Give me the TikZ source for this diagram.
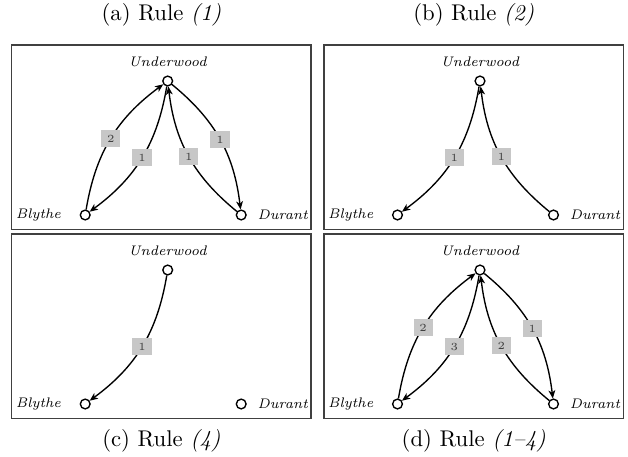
\documentclass[tikz,border=0pt]{standalone}
\usetikzlibrary{arrows.meta}
\begin{document}
\begin{tikzpicture}[x=0.44pt,y=0.44pt,
  panelbox/.style={draw=black!75, line width=0.55pt},
  vert/.style={circle, draw, line width=0.6pt, minimum size=4.3pt, inner sep=0pt, fill=white},
  namelab/.style={font=\fontsize{6.1}{7}\selectfont\itshape, inner sep=0pt},
  captext/.style={font=\fontsize{10}{12}\selectfont, inner sep=0pt},
  wlbl/.style={fill=black!22, minimum width=8.4pt, minimum height=7.4pt, inner sep=0pt,
              font=\fontsize{4.8}{5}\selectfont, text=black!75},
  conn/.style={line width=0.6pt, -{Stealth[length=3.6pt,width=3pt,inset=1pt]}, bend left=22}]
\useasboundingbox (0,0) rectangle (628,-457);
% panels
\draw[panelbox] (11.7,-45) rectangle (311,-229.7);
\draw[panelbox] (324,-45) rectangle (623.3,-229.7);
\draw[panelbox] (11.7,-234) rectangle (311,-418.7);
\draw[panelbox] (324,-234) rectangle (623.3,-418.7);
% captions
\node[captext] (capa) at (161.4,-15) {(a) Rule \textit{(1)}};
\node[captext] (capb) at (473.7,-15) {(b) Rule \textit{(2)}};
\node[captext] (capc) at (161.4,-441) {(c) Rule \textit{(4)}};
\node[captext] (capd) at (473.7,-441) {(d) Rule \textit{(1--4)}};
% panel (a)
\begin{scope}[shift={(11.7,-45)}]
  \node[vert, label={[namelab, label distance=3.4pt]above:Underwood}] (aU) at (156,-36) {};
  \node[vert, label={[namelab, label distance=8pt]left:Blythe}] (aB) at (73.5,-170) {};
  \node[vert, label={[namelab, label distance=4.6pt]right:Durant}] (aD) at (229.5,-170) {};
  \draw[conn] (aB) to node[wlbl] {2} (aU);
  \draw[conn] (aU) to node[wlbl] {1} (aB);
  \draw[conn] (aD) to node[wlbl] {1} (aU);
  \draw[conn] (aU) to node[wlbl] {1} (aD);
\end{scope}
% panel (b)
\begin{scope}[shift={(324,-45)}]
  \node[vert, label={[namelab, label distance=3.4pt]above:Underwood}] (bU) at (156,-36) {};
  \node[vert, label={[namelab, label distance=8pt]left:Blythe}] (bB) at (73.5,-170) {};
  \node[vert, label={[namelab, label distance=4.6pt]right:Durant}] (bD) at (229.5,-170) {};
  \draw[conn] (bU) to node[wlbl] {1} (bB);
  \draw[conn] (bD) to node[wlbl] {1} (bU);
\end{scope}
% panel (c)
\begin{scope}[shift={(11.7,-234)}]
  \node[vert, label={[namelab, label distance=3.4pt]above:Underwood}] (cU) at (156,-36) {};
  \node[vert, label={[namelab, label distance=8pt]left:Blythe}] (cB) at (73.5,-170) {};
  \node[vert, label={[namelab, label distance=4.6pt]right:Durant}] (cD) at (229.5,-170) {};
  \draw[conn] (cU) to node[wlbl] {1} (cB);
\end{scope}
% panel (d)
\begin{scope}[shift={(324,-234)}]
  \node[vert, label={[namelab, label distance=3.4pt]above:Underwood}] (dU) at (156,-36) {};
  \node[vert, label={[namelab, label distance=8pt]left:Blythe}] (dB) at (73.5,-170) {};
  \node[vert, label={[namelab, label distance=4.6pt]right:Durant}] (dD) at (229.5,-170) {};
  \draw[conn] (dB) to node[wlbl] {2} (dU);
  \draw[conn] (dU) to node[wlbl] {3} (dB);
  \draw[conn] (dD) to node[wlbl] {2} (dU);
  \draw[conn] (dU) to node[wlbl] {1} (dD);
\end{scope}
\end{tikzpicture}
\end{document}
